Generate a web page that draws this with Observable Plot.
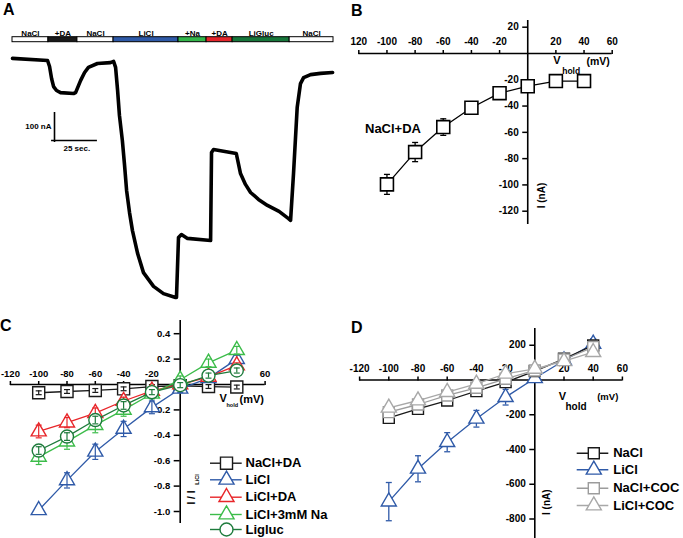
<!DOCTYPE html>
<html><head><meta charset="utf-8">
<script src="https://cdn.jsdelivr.net/npm/d3@7"></script>
<script src="https://cdn.jsdelivr.net/npm/@observablehq/plot@0.6"></script>
<style>
body{margin:0;background:#fff;}
#fig{position:relative;width:683px;height:538px;overflow:hidden;font-family:"Liberation Sans",Arial,sans-serif;}
.panel{position:absolute;}
.letter{position:absolute;font-weight:bold;font-size:16px;line-height:1;}
</style></head><body><div id="fig"></div>
<script>
// ---------------- DATA ----------------
const voltages = [-100, -80, -60, -40, -20, 0, 20, 40];

// Panel A: solution bar and current trace
const segLabels = ["NaCl", "+DA", "NaCl", "LiCl", "+Na", "+DA", "LiGluc", "NaCl"];
const segStart = [0, 19.6, 35.4, 55.1, 90.5, 105.8, 120, 151.1];
const segEnd = [19.6, 35.4, 55.1, 90.5, 105.8, 120, 151.1, 175];
const segColors = ["#ffffff", "#1a1a1a", "#ffffff", "#2f5aa8", "#33b54a", "#e4262b", "#17773b", "#ffffff"];
const traceTime = [0, 19.1, 20.2, 21.3, 22.4, 24, 26.2, 33.3, 34.4, 37.1, 39.3, 41.4, 46.3, 53.4, 55.1,
  56.2, 57.3, 58.3, 59.9, 61.1, 62.2, 63.8, 65.4, 68.2, 71.4, 76.9, 82.3, 88.9, 89.4,
  90.5, 92.1, 95.4, 108, 108.5, 109.6, 122, 124.3, 127, 129.8, 134.1, 139, 145.3, 150.5,
  151.6, 153.2, 155.2, 157, 158.7, 162.5, 167.9, 174.5];
const traceCurrent = [7, 0, -20, -60, -87, -100, -107, -110, -107, -67, -40, -23, -10, -7, -3,
  -23, -100, -183, -267, -350, -433, -507, -567, -643, -707, -753, -777, -790, -790,
  -590, -580, -593, -600, -307, -297, -310, -377, -413, -440, -463, -483, -503, -527,
  -533, -377, -157, -77, -57, -47, -43, -40];
const scaleBarTime = 25;     // sec
const scaleBarCurrent = 100; // nA

// Panel B: NaCl+DA I-V
const bCurrent = [-99.6, -75, -56, -41.3, -30.2, -24.9, -21, -21];
const bError = [7.6, 7.3, 6.3, 3, 3, 3, 1.5, 4];
const bTicksX = [-120, -100, -80, -60, -40, -20, 20, 40, 60];
const bTickLabelsX = ["120", "-100", "-80", "-60", "-40", "-20", "20", "40", "60"];
const bTicksY = [20, -20, -40, -60, -80, -100, -120];

// Panel C: normalized I / I_LiCl
const cNames = ["NaCl+DA", "LiCl", "LiCl+DA", "LiCl+3mM Na", "Ligluc"];
const cColors = ["#1a1a1a", "#2f5aa8", "#e8262a", "#3cbc4a", "#1e7b3c"];
const cSymbols = ["square", "triangle", "triangle", "triangle", "circle"];
const cNaClDA = [-0.065, -0.055, -0.047, -0.034, -0.016, -0.01, -0.016, -0.02];
const cLiCl = [-0.99, -0.755, -0.53, -0.35, -0.18, -0.034, 0.05, 0.2];
const cLiClDA = [-0.37, -0.30, -0.225, -0.13, -0.05, 0.0, 0.06, 0.15];
const cLiClNa = [-0.57, -0.45, -0.32, -0.2, -0.073, 0.037, 0.17, 0.27];
const cLigluc = [-0.52, -0.41, -0.28, -0.165, -0.06, -0.005, 0.07, 0.11];
const cNaClDAErr = [0.015, 0.015, 0.015, 0.015, 0.015, 0.01, 0.015, 0.015];
const cLiClErr = [0, 0.06, 0.06, 0.06, 0.05, 0.03, 0.03, 0.03];
const cLiClDAErr = [0.05, 0.04, 0.04, 0.03, 0.03, 0.02, 0.02, 0.02];
const cLiClNaErr = [0.06, 0.06, 0.06, 0.05, 0.04, 0.03, 0.03, 0.03];
const cLiglucErr = [0.03, 0.03, 0.03, 0.03, 0.02, 0.02, 0.02, 0.02];
const cTicksX = [-120, -100, -80, -60, -40, -20, 20, 40, 60];
const cTickLabelsX = ["-120", "-100", "-80", "-60", "-40", "-20", "", "", "60"];
const cTicksY = [0.4, 0.2, -0.2, -0.4, -0.6, -0.8, -1.0];
const cTickLabelsY = ["0.4", "0.2", "-0.2", "-0.4", "-0.6", "-0.8", "-1.0"];

// Panel D: I-V with cocaine
const dNames = ["NaCl", "LiCl", "NaCl+COC", "LiCl+COC"];
const dColors = ["#1a1a1a", "#2f5aa8", "#9c9c9c", "#a8a8a8"];
const dSymbols = ["square", "triangle", "square", "triangle"];
const dNaCl = [-218, -166, -118, -64, -12, 51, 122, 199];
const dLiCl = [-700, -511, -358, -223, -99, 10, 112, 208];
const dNaClCOC = [-185, -141, -89, -45, 7, 55, 118, 189];
const dLiClCOC = [-160, -118, -70, -22, 36, 64, 108, 160];
const dNaClErr = [15, 15, 12, 12, 10, 10, 12, 15];
const dLiClErr = [110, 75, 55, 48, 45, 10, 20, 30];
const dNaClCOCErr = [15, 15, 12, 12, 10, 10, 12, 15];
const dLiClCOCErr = [15, 15, 12, 12, 10, 10, 12, 15];
const dTicksX = [-120, -100, -80, -60, -40, -20, 20, 40, 60];
const dTickLabelsX = ["-120", "-100", "-80", "-60", "-40", "-20", "20", "40", "60"];
const dTicksY = [200, -200, -400, -600, -800];

// ---------------- HELPERS ----------------
const FONT = '"Liberation Sans", Arial, Helvetica, sans-serif';
const fig = document.getElementById("fig");
function place(node, left, top) {
  const d = document.createElement("div");
  d.className = "panel"; d.style.left = left + "px"; d.style.top = top + "px";
  d.appendChild(node); fig.appendChild(d);
}
function letter(t, left, top) {
  const d = document.createElement("div");
  d.className = "letter"; d.textContent = t; d.style.left = left + "px"; d.style.top = top + "px";
  fig.appendChild(d);
}
const capSym = {draw(ctx) { ctx.moveTo(-3, 0); ctx.lineTo(3, 0); }};
function inv(s) { return d3.scaleLinear().domain(s.range).range(s.domain); }
function fwd(s) { return d3.scaleLinear().domain(s.domain).range(s.range); }
function label(text, x, y, opts) {
  return Plot.text([text], Object.assign({x, y, text: d => d, fontWeight: "bold", fill: "black"}, opts));
}
function rows(vals, errs) { return voltages.map((v, i) => ({v, y: vals[i], e: errs[i]})); }
function errMarks(data, color, sw) {
  const f = data.filter(d => d.e > 0);
  return [
    Plot.ruleX(f, {x: "v", y1: d => d.y - d.e, y2: d => d.y + d.e, stroke: color, strokeWidth: sw}),
    Plot.dot(f, {x: "v", y: d => d.y - d.e, symbol: capSym, stroke: color, fill: "none", strokeWidth: sw}),
    Plot.dot(f, {x: "v", y: d => d.y + d.e, symbol: capSym, stroke: color, fill: "none", strokeWidth: sw})
  ];
}
function axes(ticksX, labelsX, ticksY, labelsY, ySize, fs) {
  return [
    Plot.axisX({anchor: "top", ticks: ticksX, tickFormat: d => labelsX[ticksX.indexOf(d)], tickSize: 4, tickPadding: 4,
      strokeWidth: 1.5, label: null, fontSize: fs, fontWeight: "bold"}),
    Plot.axisY({anchor: "left", ticks: ticksY, tickFormat: d => labelsY[ticksY.indexOf(d)], tickSize: ySize, tickPadding: 4,
      strokeWidth: 1.5, label: null, fontSize: fs, fontWeight: "bold"})
  ];
}
const rFor = {square: 6.8, triangle: 5.6, circle: 6.5};

// ---------------- PANEL A ----------------
{
  const X = {domain: [0, 175], range: [12, 333]};
  const Y = {domain: [-800, 200], range: [300, 0]};
  const yi = inv(Y), xi = inv(X);
  const segs = segLabels.map((l, i) => ({l, s: segStart[i], e: segEnd[i], c: segColors[i]}));
  const trace = traceTime.map((t, i) => ({t, I: traceCurrent[i]}));
  const barTop = yi(36.7), barBot = yi(41.7), labY = yi(32.5);
  const sbT = xi(54), sbI = yi(140), sbLow = yi(142);
  const p = Plot.plot({
    width: 340, height: 310, margin: 0,
    style: {fontFamily: FONT, background: "transparent", overflow: "visible"},
    x: {domain: X.domain, range: X.range, axis: null},
    y: {domain: Y.domain, range: Y.range, axis: null},
    marks: [
      Plot.rect(segs, {x1: "s", x2: "e", y1: barBot, y2: barTop, fill: "c", stroke: "black", strokeWidth: 1}),
      Plot.text(segs, {x: d => (d.s + d.e) / 2, y: labY, text: "l", fontSize: 8, fontWeight: "bold", fill: "black"}),
      Plot.line(trace, {x: "t", y: "I", stroke: "black", strokeWidth: 3.6, strokeLinejoin: "round"}),
      Plot.ruleX([sbT], {x: d => d, y1: sbLow, y2: sbLow + scaleBarCurrent, stroke: "black", strokeWidth: 1.6}),
      Plot.ruleY([sbI], {y: d => d, x1: sbT - 1.6, x2: sbT - 1.6 + scaleBarTime, stroke: "black", strokeWidth: 1.6}),
      label(scaleBarCurrent + " nA", xi(51), yi(126), {textAnchor: "end", fontSize: 8}),
      label(scaleBarTime + " sec.", xi(63), yi(148), {textAnchor: "start", fontSize: 8})
    ]
  });
  place(p, 0, 0);
  letter("A", 3, 2);
}

// ---------------- PANEL B ----------------
{
  const X = {domain: [-120, 60], range: [18.3, 271.7]};
  const Y = {domain: [20, -120], range: [26.7, 210.7]};
  const xi = inv(X), yi = inv(Y);
  const data = rows(bCurrent, bError);
  const p = Plot.plot({
    width: 343, height: 310, marginTop: fwd(Y)(0), marginLeft: fwd(X)(0), marginRight: 0, marginBottom: 0,
    style: {fontFamily: FONT, fontSize: "10px", fontWeight: "bold", background: "transparent", overflow: "visible"},
    x: {domain: X.domain, range: X.range, label: null},
    y: {domain: Y.domain, range: Y.range, label: null},
    marks: [
      Plot.ruleY([0], {x1: -120, x2: 60, strokeWidth: 1.6}),
      Plot.ruleX([0], {y1: yi(20), y2: yi(224), strokeWidth: 1.6}),
      ...axes(bTicksX, bTickLabelsX, bTicksY, bTicksY.map(String), 5, 10),
      Plot.line(data, {x: "v", y: "y", stroke: "black", strokeWidth: 1.3}),
      ...errMarks(data, "black", 1.3),
      Plot.dot(data, {x: "v", y: "y", symbol: "square", r: 7.3, fill: "white", stroke: "black", strokeWidth: 1.6}),
      label("V", xi(552.7 - 340), yi(60), {textAnchor: "start", fontSize: 11}),
      label("hold", xi(561.7 - 340), yi(70.7), {textAnchor: "start", fontSize: 8.5}),
      label("(mV)", xi(586 - 340), yi(60.7), {textAnchor: "start", fontSize: 10.5}),
      label("I (nA)", xi(541.7 - 340), yi(195), {rotate: -90, fontSize: 10}),
      label("NaCl+DA", xi(392.5 - 340), yi(128), {fontSize: 13})
    ]
  });
  place(p, 340, 0);
  letter("B", 351, 3);
}

// ---------------- PANEL C ----------------
{
  const X = {domain: [-120, 60], range: [9.9, 264.6]};
  const Y = {domain: [0.4, -1.0], range: [23.2, 201]};
  const xi = inv(X), yi = inv(Y);
  const vals = [cNaClDA, cLiCl, cLiClDA, cLiClNa, cLigluc];
  const errs = [cNaClDAErr, cLiClErr, cLiClDAErr, cLiClNaErr, cLiglucErr];
  const legendY = [462.7, 479.3, 496.7, 514, 529];
  const marks = [
    Plot.ruleY([0], {x1: -120, x2: 60, strokeWidth: 1.6}),
    Plot.ruleX([0], {y1: yi(10), y2: yi(213), strokeWidth: 1.6}),
    ...axes(cTicksX, cTickLabelsX, cTicksY, cTickLabelsY, 6, 9.5),
    label("V", xi(219), yi(398.3 - 310), {textAnchor: "start", fontSize: 11}),
    label("hold", xi(226), yi(404.5 - 310), {textAnchor: "start", fontSize: 5.5}),
    label("(mV)", xi(239), yi(399.3 - 310), {textAnchor: "start", fontSize: 11}),
    label("I / I", xi(191), yi(497 - 310), {rotate: -90, fontSize: 10}),
    label("LiCl", xi(196.5), yi(479 - 310), {rotate: -90, fontSize: 5.5})
  ];
  cNames.forEach((name, k) => {
    const data = rows(vals[k], errs[k]);
    const c = cColors[k], sym = cSymbols[k];
    marks.push(
      Plot.line(data, {x: "v", y: "y", stroke: c, strokeWidth: 1.3}),
      Plot.dot(data, {x: "v", y: "y", symbol: sym, r: rFor[sym], fill: "white", stroke: c, strokeWidth: 1.4}),
      ...errMarks(data, c, 1.2)
    );
    const ly = yi(legendY[k] - 310);
    marks.push(
      Plot.ruleY([ly], {y: d => d, x1: xi(210), x2: xi(241.7), stroke: c, strokeWidth: 1.4}),
      Plot.dot([ly], {x: xi(226), y: d => d, symbol: sym, r: rFor[sym], fill: "white", stroke: c, strokeWidth: 1.4}),
      label(name, xi(245), ly, {textAnchor: "start", fontSize: 13})
    );
  });
  const p = Plot.plot({
    width: 340, height: 228, marginTop: fwd(Y)(0), marginLeft: fwd(X)(0), marginRight: 0, marginBottom: 0,
    style: {fontFamily: FONT, fontSize: "9.5px", fontWeight: "bold", background: "transparent", overflow: "visible"},
    x: {domain: X.domain, range: X.range, label: null},
    y: {domain: Y.domain, range: Y.range, label: null},
    marks
  });
  place(p, 0, 310);
  letter("C", 0, 318);
}

// ---------------- PANEL D ----------------
{
  const X = {domain: [-120, 60], range: [19.1, 281.9]};
  const Y = {domain: [200, -800], range: [34.75, 208.5]};
  const xi = inv(X), yi = inv(Y);
  const vals = [dNaCl, dLiCl, dNaClCOC, dLiClCOC];
  const errs = [dNaClErr, dLiClErr, dNaClCOCErr, dLiClCOCErr];
  const legendY = [452.7, 469.3, 487.7, 505];
  const marks = [
    Plot.ruleY([0], {x1: -120, x2: 60, strokeWidth: 1.6}),
    Plot.ruleX([0], {y1: yi(18), y2: yi(230), strokeWidth: 1.6}),
    ...axes(dTicksX, dTickLabelsX, dTicksY, dTicksY.map(String), 5, 10),
    label("V", xi(558.3 - 340), yi(396 - 310), {textAnchor: "start", fontSize: 11}),
    label("hold", xi(565 - 340), yi(406 - 310), {textAnchor: "start", fontSize: 10}),
    label("(mV)", xi(596.7 - 340), yi(396 - 310), {textAnchor: "start", fontSize: 9.5}),
    label("I (nA)", xi(546.7 - 340), yi(501.7 - 310), {rotate: -90, fontSize: 10})
  ];
  const order = [1, 0, 2, 3];
  order.forEach(k => {
    const data = rows(vals[k], errs[k]);
    const c = dColors[k], sym = dSymbols[k];
    marks.push(
      Plot.line(data, {x: "v", y: "y", stroke: c, strokeWidth: 1.3}),
      ...errMarks(data, c, 1.3),
      Plot.dot(data, {x: "v", y: "y", symbol: sym, r: sym === "square" ? 6.2 : rFor[sym], fill: "white", stroke: c, strokeWidth: 1.4})
    );
  });
  dNames.forEach((name, k) => {
    const c = dColors[k], sym = dSymbols[k];
    const ly = yi(legendY[k] - 310);
    marks.push(
      Plot.ruleY([ly], {y: d => d, x1: xi(576.7 - 340), x2: xi(608.3 - 340), stroke: c, strokeWidth: 1.4}),
      Plot.dot([ly], {x: xi(593.3 - 340), y: d => d, symbol: sym, r: sym === "square" ? 6.2 : rFor[sym], fill: "white", stroke: c, strokeWidth: 1.4}),
      label(name, xi(612.7 - 340), ly, {textAnchor: "start", fontSize: 13})
    );
  });
  const p = Plot.plot({
    width: 343, height: 228, marginTop: fwd(Y)(0), marginLeft: fwd(X)(0), marginRight: 0, marginBottom: 0,
    style: {fontFamily: FONT, fontSize: "10px", fontWeight: "bold", background: "transparent", overflow: "visible"},
    x: {domain: X.domain, range: X.range, label: null},
    y: {domain: Y.domain, range: Y.range, label: null},
    marks
  });
  place(p, 340, 310);
  letter("D", 351, 320);
}
</script></body></html>
